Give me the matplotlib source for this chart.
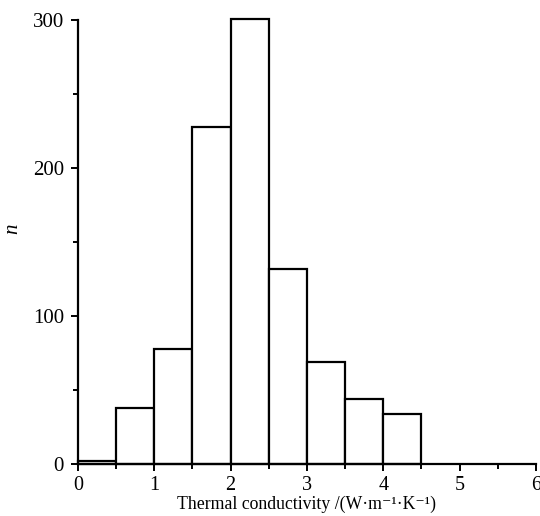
import matplotlib

matplotlib.use("Agg")
import matplotlib.pyplot as plt
from matplotlib.ticker import MultipleLocator

# Histogram bins (W·m-1·K-1) and counts
bin_edges = [0.0, 0.5, 1.0, 1.5, 2.0, 2.5, 3.0, 3.5, 4.0, 4.5]
counts = [2, 38, 78, 228, 301, 132, 69, 44, 34]

plt.rcParams["font.family"] = ["Liberation Serif", "DejaVu Serif"]

fig = plt.figure(figsize=(5.4, 5.16), dpi=100)
ax = fig.add_axes([0.1444, 0.1008, 0.8482, 0.8604])

lefts = bin_edges[:-1]
widths = [b - a for a, b in zip(bin_edges[:-1], bin_edges[1:])]
ax.bar(lefts, counts, width=widths, align="edge", facecolor="white",
       edgecolor="black", linewidth=1.6, clip_on=False, zorder=3)

ax.set_xlim(0, 6)
ax.set_ylim(0, 300)
ax.xaxis.set_major_locator(MultipleLocator(1))
ax.xaxis.set_minor_locator(MultipleLocator(0.5))
ax.yaxis.set_major_locator(MultipleLocator(100))
ax.yaxis.set_minor_locator(MultipleLocator(50))

for side in ("top", "right"):
    ax.spines[side].set_visible(False)
for side in ("left", "bottom"):
    ax.spines[side].set_linewidth(1.6)
    ax.spines[side].set_zorder(4)

ax.tick_params(which="major", direction="out", length=5, width=1.4,
               labelsize=15, pad=5)
ax.tick_params(which="minor", direction="out", length=3.6, width=1.4)
ax.tick_params(axis="x", which="major", labelsize=14.5, pad=4)

ax.set_xlabel("Thermal conductivity /(W\u00b7m\u207b\u00b9\u00b7K\u207b\u00b9)",
              fontsize=12.8, labelpad=0)
ax.set_ylabel("n", fontsize=15, style="italic")
ax.yaxis.set_label_coords(-0.122, 0.53)

fig.savefig("out.png", dpi=100, facecolor="white")
